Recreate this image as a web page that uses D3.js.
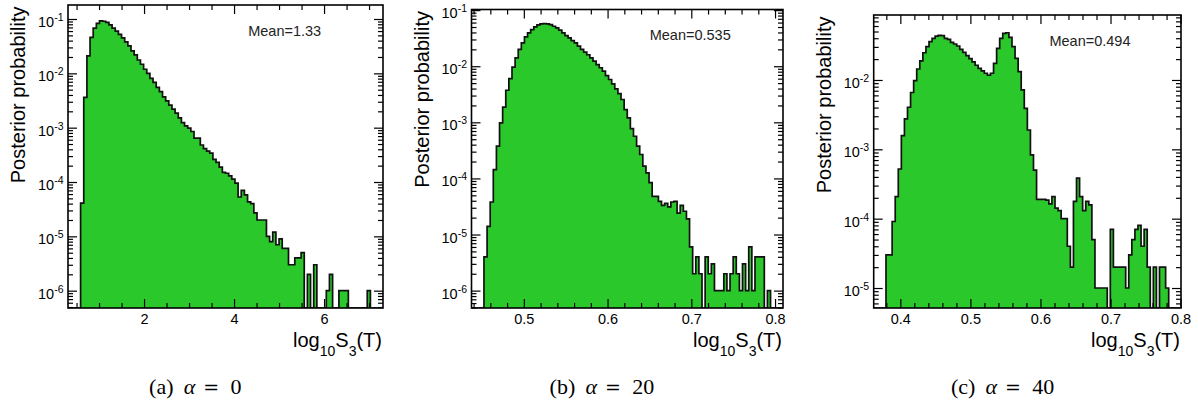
<!DOCTYPE html>
<html>
<head>
<meta charset="utf-8">
<script src="https://cdn.jsdelivr.net/npm/d3@7"></script>
<style>
body{margin:0;background:#fff;}
svg{display:block;font-family:"Liberation Sans",Arial,Helvetica,sans-serif;}
</style>
</head>
<body>
<script>
// posterior probability per bin, 100 bins over the axis range of each panel
var probA = [0,0,0,0,4.1e-5,3.6e-3,0.021,0.046,0.068,0.083,
  0.092,0.091,0.087,0.078,0.068,0.060,0.052,0.045,0.038,0.032,
  0.026,0.0218,0.0176,0.0147,0.0119,0.0100,0.0081,0.0068,0.0055,0.0046,
  0.0037,0.0031,0.0026,0.0022,0.00185,0.00152,0.00124,0.00108,0.00098,0.00085,
  0.00064,0.00064,0.00048,0.00041,0.00037,0.00034,0.00026,0.00023,0.000188,0.00015,
  0.000145,0.00013,0.000113,0.000095,0.000053,0.00007,0.000058,0.000043,0.00004,0.000027,
  0.00002,0.00002,0.00002,0.00001,8e-6,1.2e-5,7e-6,9e-6,6e-6,6e-6,
  3e-6,3e-6,4e-6,4e-6,5e-6,0,2e-6,0,3e-6,0,
  0,0,1e-6,2e-6,0,0,1e-6,1e-6,1e-6,0,
  0,0,0,0,0,1e-6,0,0,0,0];
var probB = [0,0,0,0,4e-6,1.4e-5,3.8e-5,1.44e-4,3.75e-4,9.8e-4,
  1.86e-3,3.73e-3,6.0e-3,9.6e-3,0.0141,0.0199,0.0261,0.0334,0.0394,0.045,
  0.0503,0.0547,0.057,0.0574,0.057,0.055,0.0516,0.0483,0.0439,0.0394,
  0.0352,0.032,0.0287,0.0261,0.0228,0.0199,0.0178,0.016,0.0141,0.0123,
  0.0107,0.0094,0.0082,0.0068,0.0058,0.00485,0.00395,0.00326,0.00255,0.00169,
  0.0012,0.00077,0.000565,0.000375,0.000267,0.000165,0.000126,0.000084,0.000048,0.000048,
  0.000039,0.000033,0.000036,0.000031,0.000038,0.000039,0.000024,0.000033,0.000026,0.000019,
  6e-6,2e-6,4e-6,2e-6,0,4e-6,2e-6,3e-6,1e-6,1e-6,
  1e-6,2e-6,1e-6,2e-6,4e-6,2e-6,1e-6,3e-6,1e-6,6e-6,
  1e-6,4e-6,4e-6,4e-6,0,1e-6,0,0,0,0];
var probC = [0,0,0,0,3e-5,3e-5,9.1e-5,2.08e-4,5.2e-4,1.58e-3,
  2.74e-3,4.04e-3,6.6e-3,9.8e-3,0.0144,0.0188,0.0247,0.0302,0.0357,0.0399,
  0.043,0.044,0.0437,0.0399,0.0386,0.0349,0.033,0.0309,0.0277,0.025,
  0.0224,0.0203,0.0182,0.0163,0.0147,0.0135,0.0125,0.0117,0.0125,0.0174,
  0.0286,0.0399,0.0471,0.048,0.0412,0.0302,0.0205,0.0132,0.0072,0.0039,
  0.0019,0.00083,0.0005,0.00019,0.00019,0.00019,0.000185,0.000163,0.000208,0.000142,
  0.000131,0.0001,0.0001,0.00004,0.00002,0.000177,0.000385,0.000208,0.000131,0.000177,
  0.000158,0.00005,0.00001,0.00001,0.00001,0.00001,0,0.00007,0.00002,0.00002,
  0.00002,0.00002,0.00001,0.00003,0.00005,0.00007,0.00008,0.00004,0.00007,0.00002,
  0,0.00002,0,0.00002,0.00002,0.00001,0,0,0,0];

var xRangeA = [0.31, 7.31], xRangeB = [0.4375, 0.8095], xRangeC = [0.362, 0.8006];
var yRangeA = [4.8e-7, 0.181], yRangeB = [4.9e-7, 0.1026], yRangeC = [5.15e-6, 0.0865];
var xTicksA = [2, 4, 6], xTicksB = [0.5, 0.6, 0.7, 0.8], xTicksC = [0.4, 0.5, 0.6, 0.7, 0.8];
var yExpA = [-1, -2, -3, -4, -5, -6], yExpB = [-1, -2, -3, -4, -5, -6], yExpC = [-2, -3, -4, -5];
var meanLabels = ["Mean=1.33", "Mean=0.535", "Mean=0.494"];
var captionTags = ["(a)", "(b)", "(c)"];
var alphaValues = ["0", "20", "40"];

var panels = [
  {probs: probA, xr: xRangeA, yr: yRangeA, xt: xTicksA, minor: 0.5, ye: yExpA, left: 68, right: 383, top: 5, bottom: 308},
  {probs: probB, xr: xRangeB, yr: yRangeB, xt: xTicksB, minor: 0.02, ye: yExpB, left: 471.5, right: 783, top: 9.5, bottom: 308},
  {probs: probC, xr: xRangeC, yr: yRangeC, xt: xTicksC, minor: 0.02, ye: yExpC, left: 873.7, right: 1181, top: 15, bottom: 308}
];

var styleAxis = function(sel){
  sel.select(".domain").remove();
  sel.selectAll("line").attr("stroke", "#000").attr("stroke-width", 1.2);
  sel.attr("font-family", null).attr("font-size", 14.5);
  sel.selectAll("text").attr("fill", "#000");
};

var drawPanel = function(svg, defs, p, k){
  var xScale = d3.scaleLinear().domain(p.xr).range([p.left, p.right]);
  var yScale = d3.scaleLog().domain(p.yr).range([p.bottom, p.top]);
  var n = p.probs.length;
  var bw = (p.xr[1] - p.xr[0]) / n;
  var edges = p.probs.map(function(v, i){ return {x: p.xr[0] + i * bw, v: v}; });
  edges.push({x: p.xr[1], v: p.probs[n - 1]});
  var yOf = function(d){ return yScale(Math.max(d.v, p.yr[0])); };

  defs.append("clipPath").attr("id", "clip" + k).append("rect")
    .attr("x", p.left).attr("y", p.top).attr("width", p.right - p.left).attr("height", p.bottom - p.top);

  var area = d3.area().curve(d3.curveStepAfter)
    .x(function(d){ return xScale(d.x); }).y0(p.bottom).y1(yOf);
  var line = d3.line().curve(d3.curveStepAfter)
    .x(function(d){ return xScale(d.x); }).y(yOf);

  var h = svg.append("g").attr("clip-path", "url(#clip" + k + ")");
  h.append("path").datum(edges).attr("d", area).attr("fill", "#2bc82b");
  h.append("path").datum(edges).attr("d", line).attr("fill", "none")
    .attr("stroke", "#111").attr("stroke-width", 1.7);

  // x ticks
  var lo = Math.ceil(p.xr[0] / p.minor - 1e-9), hi = Math.floor(p.xr[1] / p.minor + 1e-9);
  var xMinor = d3.range(lo, hi + 1).map(function(i){ return i * p.minor; })
    .filter(function(v){ return !p.xt.some(function(m){ return Math.abs(m - v) < 1e-9; }); });

  svg.append("g").attr("transform", "translate(0," + p.bottom + ")")
    .call(d3.axisBottom(xScale).tickValues(p.xt).tickSizeInner(-9).tickSizeOuter(0).tickPadding(6).tickFormat(d3.format("~g")))
    .call(styleAxis);
  svg.append("g").attr("transform", "translate(0," + p.bottom + ")")
    .call(d3.axisBottom(xScale).tickValues(xMinor).tickSizeInner(-5).tickSizeOuter(0).tickFormat(""))
    .call(styleAxis);
  svg.append("g").attr("transform", "translate(0," + p.top + ")")
    .call(d3.axisTop(xScale).tickValues(p.xt).tickSizeInner(-9).tickSizeOuter(0).tickFormat(""))
    .call(styleAxis);
  svg.append("g").attr("transform", "translate(0," + p.top + ")")
    .call(d3.axisTop(xScale).tickValues(xMinor).tickSizeInner(-5).tickSizeOuter(0).tickFormat(""))
    .call(styleAxis);

  // y ticks (log)
  var yMajor = p.ye.map(function(e){ return Math.pow(10, e); });
  var yMinor = [];
  for (var e = Math.floor(Math.log10(p.yr[0])); e <= Math.ceil(Math.log10(p.yr[1])); e++) {
    for (var m = 2; m <= 9; m++) {
      var v = m * Math.pow(10, e);
      if (v >= p.yr[0] && v <= p.yr[1]) yMinor.push(v);
    }
  }
  [[d3.axisLeft, p.left], [d3.axisRight, p.right]].forEach(function(a){
    svg.append("g").attr("transform", "translate(" + a[1] + ",0)")
      .call(a[0](yScale).tickValues(yMajor).tickSizeInner(-9).tickSizeOuter(0).tickFormat(""))
      .call(styleAxis);
    svg.append("g").attr("transform", "translate(" + a[1] + ",0)")
      .call(a[0](yScale).tickValues(yMinor).tickSizeInner(-5).tickSizeOuter(0).tickFormat(""))
      .call(styleAxis);
  });

  var yl = svg.append("g").selectAll("text").data(p.ye).enter().append("text")
    .attr("x", p.left - 4.5)
    .attr("y", function(d){ return yScale(Math.pow(10, d)) + 8; })
    .attr("text-anchor", "end").attr("font-size", 14.5);
  yl.append("tspan").text("10");
  yl.append("tspan").attr("dy", -6).attr("font-size", 10.5).text(function(d){ return String(d); });

  // frame
  svg.append("rect").attr("x", p.left).attr("y", p.top)
    .attr("width", p.right - p.left).attr("height", p.bottom - p.top)
    .attr("fill", "none").attr("stroke", "#000").attr("stroke-width", 1.6);

  // mean
  svg.append("text").attr("x", p.left + 0.572 * (p.right - p.left)).attr("y", p.top + 30.5)
    .attr("font-size", 14.5).attr("fill", "#222").text(meanLabels[k]);

  // axis titles
  svg.append("text").attr("transform", "translate(" + (p.left - 43) + "," + (p.top + 1.5) + ") rotate(-90)")
    .attr("text-anchor", "end").attr("font-size", 20).text("Posterior probability");

  var xt = svg.append("text").attr("x", p.right - 1).attr("y", 346.5)
    .attr("text-anchor", "end").attr("font-size", 20);
  xt.append("tspan").text("log");
  xt.append("tspan").attr("dy", 9.5).attr("font-size", 14).text("10");
  xt.append("tspan").attr("dy", -9.5).text("S");
  xt.append("tspan").attr("dy", 9.5).attr("font-size", 14).text("3");
  xt.append("tspan").attr("dy", -9.5).text("(T)");

  // caption
  var xa = (p.left + p.right) / 2 - 36;
  var cap = svg.append("g").attr("font-family", "'Liberation Serif','Times New Roman',serif").attr("font-size", 22);
  cap.append("text").attr("x", xa - 16).attr("y", 394).attr("text-anchor", "end").text(captionTags[k]);
  cap.append("text").attr("x", xa).attr("y", 394).attr("text-anchor", "middle").attr("font-style", "italic").text("α");
  cap.append("text").attr("x", xa + 21.7).attr("y", 394).attr("text-anchor", "middle")
    .attr("font-family", "'DejaVu Serif',serif").attr("font-size", 19).text("=");
  cap.append("text").attr("x", xa + 41).attr("y", 394).text(alphaValues[k]);
};

var loadGraph = function(){
  var svg = d3.select("body").append("svg").attr("width", 1198).attr("height", 406);
  var defs = svg.append("defs");
  panels.forEach(function(p, k){ drawPanel(svg, defs, p, k); });
};

window.onload = loadGraph;
</script>
</body>
</html>
